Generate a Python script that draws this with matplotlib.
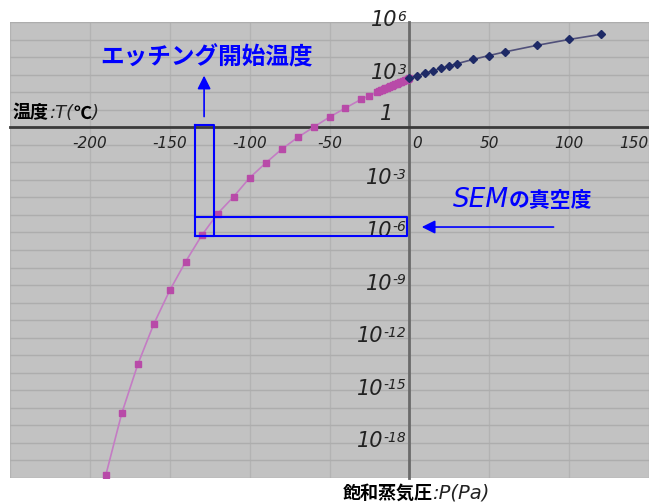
import matplotlib
matplotlib.use("Agg")
import matplotlib.pyplot as plt
from matplotlib.ticker import NullLocator

JP = ['Noto Sans CJK JP', 'DejaVu Sans']

# 氷の飽和蒸気圧 (温度 ℃, 圧力 Pa)
t_ice = [-190, -180, -170, -160, -150, -140, -130, -120, -110, -100,
         -90, -80, -70, -60, -50, -40, -30, -25,
         -20, -19, -18, -17, -16, -15, -14, -13, -12, -11,
         -10, -9, -8, -7, -6, -5, -4, -3, -2, -1, 0]
p_ice = [1.5e-20, 5e-17, 3e-14, 6e-12, 5e-10, 2.2e-8, 6.8e-7, 1.2e-5, 1.1e-4, 1.3e-3,
         9e-3, 0.055, 0.26, 1.0, 3.8, 12.5, 40, 63,
         103, 114, 125, 137, 151, 165, 181, 198, 217, 238,
         260, 284, 310, 338, 369, 402, 437, 476, 518, 563, 611]

# 水の飽和蒸気圧
t_water = [0, 5, 10, 15, 20, 25, 30, 40, 50, 60, 80, 100, 120]
p_water = [611, 870, 1230, 1700, 2340, 3170, 4250, 7400, 12300, 19900, 47000, 101000, 199000]

x_ticks = [-200, -150, -100, -50, 0, 50, 100, 150]
y_exps = [6, 3, 0, -3, -6, -9, -12, -15, -18]

fig = plt.figure(figsize=(6.49, 5.03), dpi=100)
ax = fig.add_axes([10 / 649, 25 / 503, 639 / 649, 456 / 503])
ax.set_facecolor('#c2c2c2')
ax.set_yscale('log')
ax.set_xlim(-250, 150)
ax.set_ylim(1e-20, 1e6)

# グリッド
ax.set_xticks(range(-250, 151, 50))
ax.set_yticks([10.0 ** k for k in range(-20, 7)])
ax.yaxis.set_minor_locator(NullLocator())
ax.tick_params(length=0, labelbottom=False, labelleft=False)
ax.xaxis.grid(True, color='#b3b3b3', lw=1.0)
ax.yaxis.grid(True, color='#adadad', lw=1.0)
ax.set_axisbelow(True)

for s in ['top', 'right']:
    ax.spines[s].set_visible(False)
ax.spines['left'].set_position(('data', 0))
ax.spines['bottom'].set_position(('data', 1))
ax.spines['left'].set_color('#6a6a6a')
ax.spines['left'].set_linewidth(2)
ax.spines['bottom'].set_color('#3a3a3a')
ax.spines['bottom'].set_linewidth(2)

ax.plot(t_ice, p_ice, color='#c47cc4', lw=1.2, marker='s', ms=4,
        mfc='#b84aa8', mec='#b84aa8', zorder=3)
ax.plot(t_water, p_water, color='#50507a', lw=1.2, marker='D', ms=4,
        mfc='#1e2a66', mec='#1e2a66', zorder=3)

# 目盛ラベル
txt = '#222222'
for t in x_ticks:
    if t == 0:
        ax.annotate('0', xy=(t, 1), xytext=(3, -9), textcoords='offset pixels',
                    ha='left', va='top', fontsize=11, style='italic', color=txt)
    elif t == 150:
        ax.annotate('150', xy=(t, 1), xytext=(0, -9), textcoords='offset pixels',
                    ha='right', va='top', fontsize=11, style='italic', color=txt)
    else:
        ax.annotate(str(t), xy=(t, 1), xytext=(0, -9), textcoords='offset pixels',
                    ha='center', va='top', fontsize=11, style='italic', color=txt)

for k in y_exps:
    if k == 0:
        ax.annotate('1', xy=(0, 1), xytext=(-16, 13), textcoords='offset pixels',
                    ha='right', va='center', fontsize=15, style='italic',
                    color=txt, annotation_clip=False)
    else:
        # 指数部を右寄せで置き、その左に「10」を並べる
        ex = ax.annotate(str(k), xy=(0, 10.0 ** k), xytext=(-3, 5),
                         textcoords='offset pixels', ha='right', va='center',
                         fontsize=10, style='italic', color=txt,
                         annotation_clip=False)
        ax.annotate('10', xy=(0, 0.25), xycoords=ex, ha='right', va='center',
                    fontsize=15, style='italic', color=txt)

# 軸タイトル
t1 = fig.text(13 / 649, 1 - 113 / 503, '温度', family=JP, weight='bold',
              fontsize=13, va='center')
t2 = ax.annotate(':T(', xy=(1, 0.5), xycoords=t1, va='center', ha='left',
                 fontsize=13, style='italic', color=txt)
t3 = ax.annotate('℃', xy=(1, 0.5), xycoords=t2, va='center', ha='left',
                 family=JP, weight='bold', fontsize=13)
ax.annotate(')', xy=(1, 0.5), xycoords=t3, va='center', ha='left',
            fontsize=13, style='italic', color=txt)

b1 = fig.text(343 / 649, 1 - 493 / 503, '飽和蒸気圧', family=JP, weight='bold',
              fontsize=13, va='center')
ax.annotate(':P(Pa)', xy=(1, 0.5), xycoords=b1, va='center', ha='left',
            fontsize=14, style='italic', color=txt)

# エッチング開始温度の枠と矢印
blue = '#0000ff'
ax.plot([-134, -122, -122, -134, -134], [10 ** 0.1, 10 ** 0.1, 10 ** -6.2, 10 ** -6.2, 10 ** 0.1],
        color=blue, lw=1.5, zorder=4)
ax.plot([-134, -1.5, -1.5, -134], [10 ** -5.14, 10 ** -5.14, 10 ** -6.2, 10 ** -6.2],
        color=blue, lw=1.5, zorder=4)
ax.annotate('', xy=(-128.5, 10 ** 3.1), xytext=(-128.5, 10 ** 0.45),
            arrowprops=dict(arrowstyle='-|>', color=blue, lw=1.2, mutation_scale=20))
ax.text(-127, 10 ** 4.0, 'エッチング開始温度', family=JP, weight='bold',
        fontsize=17, color=blue, ha='center', va='center')

# SEMの真空度
ax.annotate('', xy=(6, 10 ** -5.69), xytext=(92, 10 ** -5.69),
            arrowprops=dict(arrowstyle='-|>', color=blue, lw=1.2, mutation_scale=20))
s1 = ax.text(27, 10 ** -4.15, 'SEM', fontsize=19, style='italic', color=blue,
             ha='left', va='center')
ax.annotate('の真空度', xy=(1, 0.5), xycoords=s1, va='center', ha='left',
            family=JP, weight='bold', fontsize=15, color=blue)

fig.savefig('out.png', dpi=100)
